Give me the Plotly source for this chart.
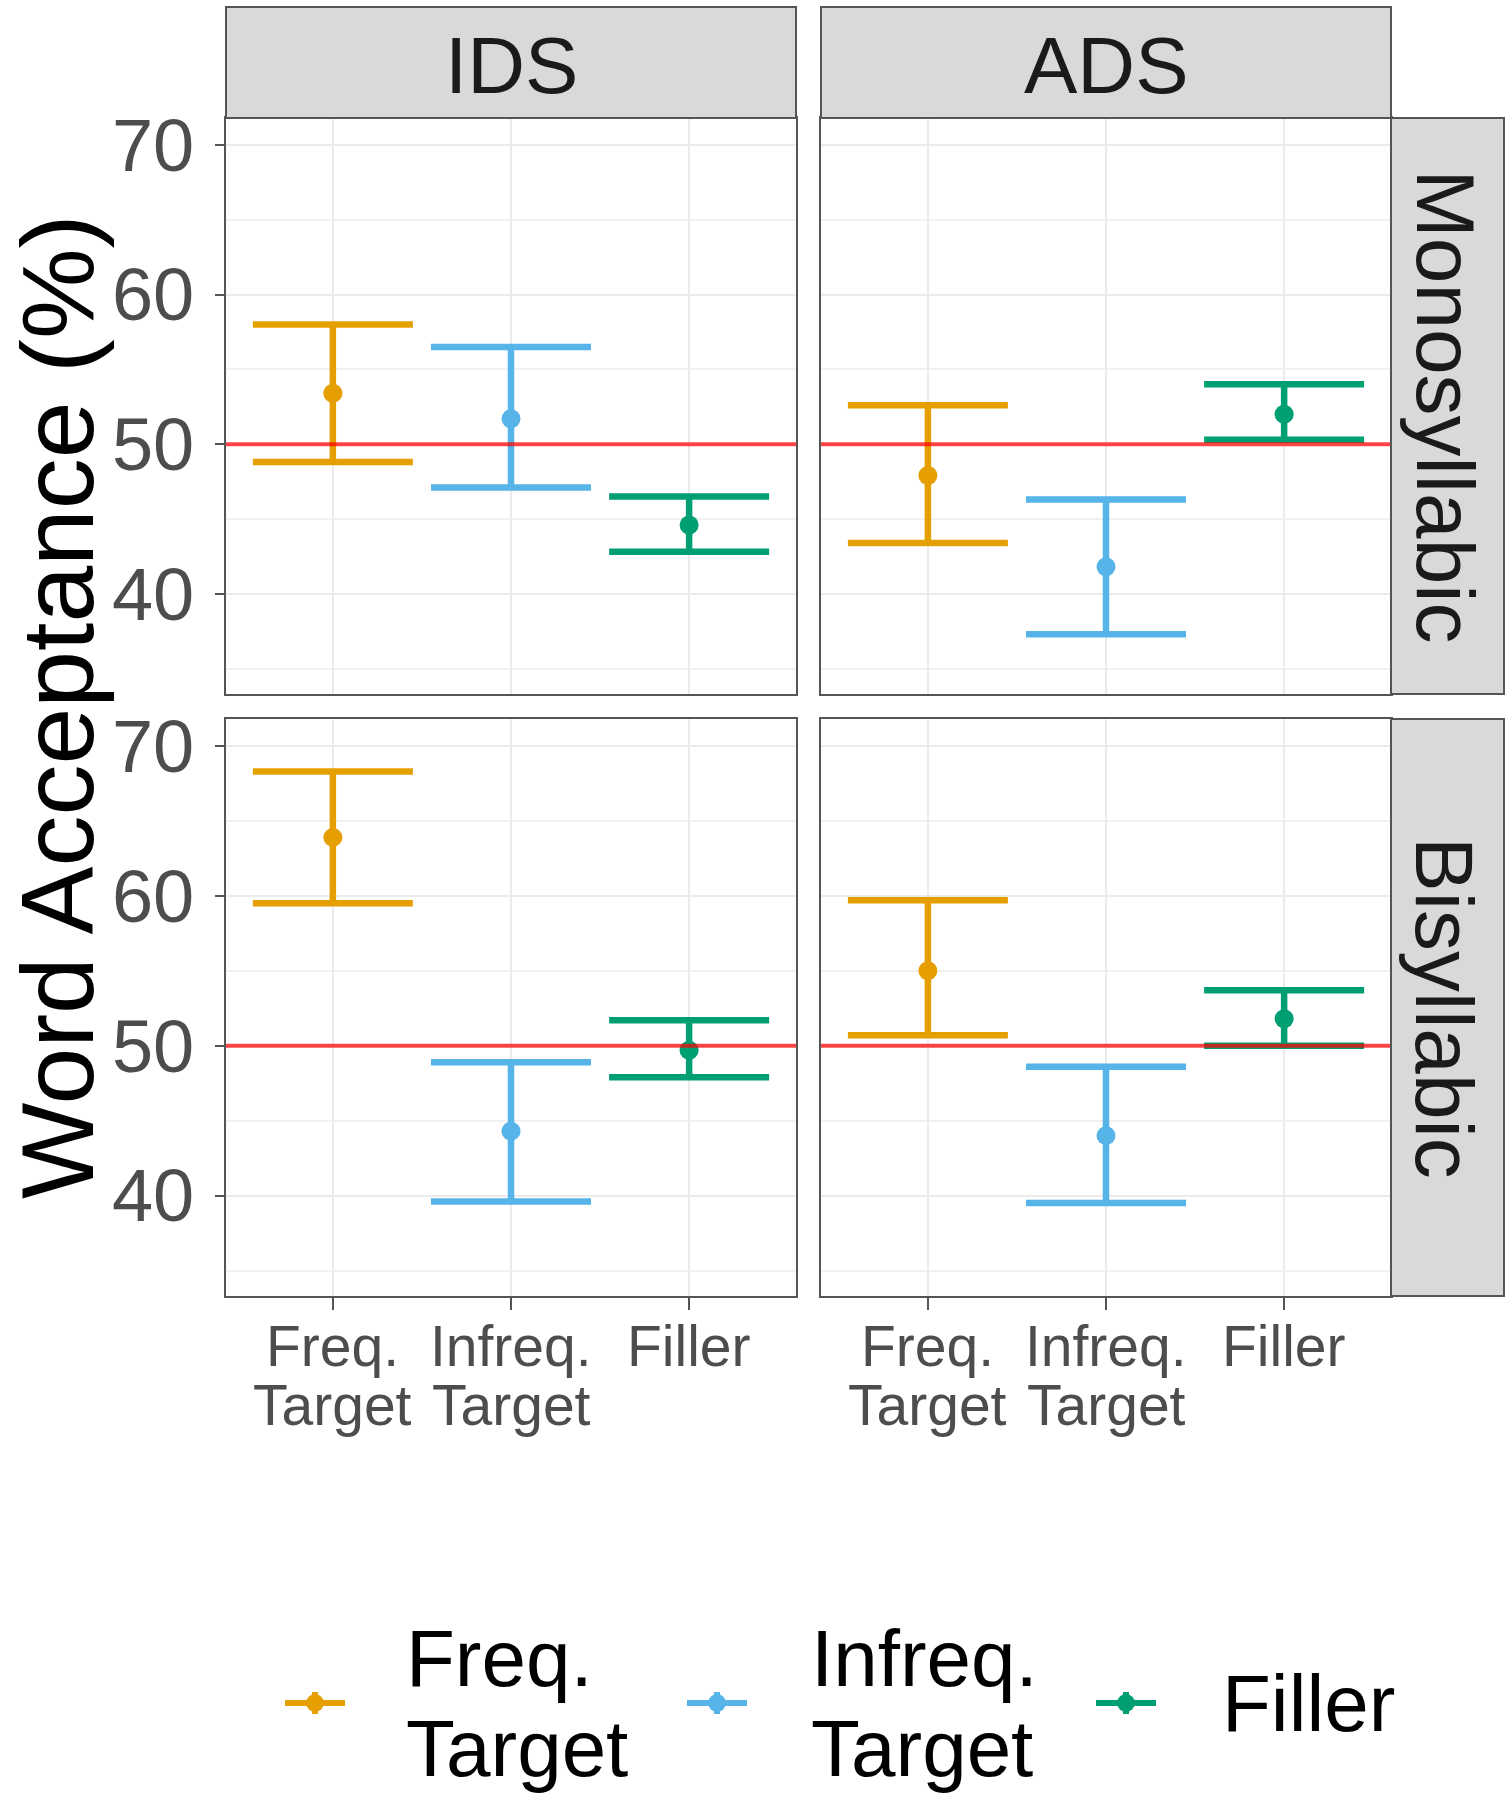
import plotly.graph_objects as go

W, H = 1509, 1800

categories = ["Freq. Target", "Infreq. Target", "Filler"]
tick_line1 = ["Freq.", "Infreq.", "Filler"]
tick_line2 = ["Target", "Target", ""]
legend_line1 = ["Freq.", "Infreq.", "Filler"]
legend_line2 = ["Target", "Target", ""]
colors = ["#E69F00", "#56B4E9", "#009E73"]
col_labels = ["IDS", "ADS"]
row_labels = ["Monosyllabic", "Bisyllabic"]
y_ticks = [40, 50, 60, 70]
y_minor = [35, 45, 55, 65]
chance = 50

ids_mono_mean = [53.4, 51.7, 44.6]
ids_mono_lo = [48.8, 47.1, 42.8]
ids_mono_hi = [58.0, 56.5, 46.5]
ads_mono_mean = [47.9, 41.8, 52.0]
ads_mono_lo = [43.4, 37.3, 50.3]
ads_mono_hi = [52.6, 46.3, 54.0]
ids_bi_mean = [63.9, 44.3, 49.7]
ids_bi_lo = [59.5, 39.6, 47.9]
ids_bi_hi = [68.3, 48.9, 51.7]
ads_bi_mean = [55.0, 44.0, 51.8]
ads_bi_lo = [50.7, 39.5, 50.0]
ads_bi_hi = [59.7, 48.6, 53.7]

panels = [
    ("x", "y", ids_mono_mean, ids_mono_lo, ids_mono_hi),
    ("x2", "y2", ads_mono_mean, ads_mono_lo, ads_mono_hi),
    ("x3", "y3", ids_bi_mean, ids_bi_lo, ids_bi_hi),
    ("x4", "y4", ads_bi_mean, ads_bi_lo, ads_bi_hi),
]

fig = go.Figure()
for xa, ya, mean, lo, hi in panels:
    for i, cat in enumerate(categories):
        fig.add_trace(go.Scatter(
            x=[cat], y=[mean[i]], xaxis=xa, yaxis=ya, mode="markers",
            name=categories[i],
            marker=dict(color=colors[i], size=19),
            error_y=dict(type="data", symmetric=False, array=[hi[i] - mean[i]],
                         arrayminus=[mean[i] - lo[i]], color=colors[i],
                         thickness=6.5, width=80),
            showlegend=False, hoverinfo="skip"))

# geometry (pixels)
colx = [(226, 796), (821, 1391)]
rowy = [(118, 694), (719, 1296)]
strip_top = (7, 118)
strip_right = (1391, 1504)

def px_x(v):
    return v / W

def px_y(v):
    return 1 - v / H

FONT = "Liberation Sans, Arial, sans-serif"
grid = "#EBEBEB"
border = "#555555"

axis_names = [("xaxis", "yaxis"), ("xaxis2", "yaxis2"), ("xaxis3", "yaxis3"), ("xaxis4", "yaxis4")]
layout = {}
for k, (xn, yn) in enumerate(axis_names):
    r, c = divmod(k, 2)
    xa = dict(type="category", categoryorder="array", categoryarray=categories,
              range=[-0.6, 2.6], domain=[px_x(colx[c][0]), px_x(colx[c][1])],
              showgrid=True, gridcolor=grid, gridwidth=2, zeroline=False,
              showline=True, mirror=True, linecolor=border, linewidth=2,
              showticklabels=False, automargin=False, fixedrange=True,
              anchor="y" if k == 0 else "y%d" % (k + 1))
    if r == 1:
        xa.update(ticks="outside", ticklen=12, tickwidth=2, tickcolor=border)
    else:
        xa.update(ticks="")
    ya = dict(range=[33.3, 71.8], domain=[px_y(rowy[r][1]), px_y(rowy[r][0])],
              tickvals=y_ticks, showgrid=True, gridcolor=grid, gridwidth=2,
              minor=dict(tickvals=y_minor, showgrid=True, gridcolor="#F1F1F1",
                         gridwidth=1.5, ticks=""),
              zeroline=False, showline=True, mirror=True, linecolor=border,
              linewidth=2, automargin=False, fixedrange=True,
              anchor="x" if k == 0 else "x%d" % (k + 1))
    if c == 0:
        ya.update(ticks="outside", ticklen=9, tickwidth=2, tickcolor=border,
                  tickfont=dict(size=74, color="#4D4D4D", family=FONT),
                  ticklabelstandoff=6)
    else:
        ya.update(ticks="", showticklabels=False)
    layout[xn] = xa
    layout[yn] = ya

shapes = []
annotations = []
# chance lines
for k in range(4):
    xr = "x" if k == 0 else "x%d" % (k + 1)
    yr = "y" if k == 0 else "y%d" % (k + 1)
    shapes.append(dict(type="line", xref=xr + " domain", yref=yr, x0=0, x1=1,
                       y0=chance, y1=chance, layer="above",
                       line=dict(color="rgba(255,0,0,0.72)", width=4)))
# strips
for c in range(2):
    shapes.append(dict(type="rect", xref="paper", yref="paper",
                       x0=px_x(colx[c][0]), x1=px_x(colx[c][1]),
                       y0=px_y(strip_top[1]), y1=px_y(strip_top[0]),
                       fillcolor="#D9D9D9", line=dict(color=border, width=2)))
    annotations.append(dict(text=col_labels[c], xref="paper", yref="paper",
                            x=px_x((colx[c][0] + colx[c][1]) / 2),
                            y=px_y((strip_top[0] + strip_top[1]) / 2 + 3),
                            showarrow=False, xanchor="center", yanchor="middle",
                            font=dict(size=80, color="#1A1A1A", family=FONT)))
for r in range(2):
    shapes.append(dict(type="rect", xref="paper", yref="paper",
                       x0=px_x(strip_right[0]), x1=px_x(strip_right[1]),
                       y0=px_y(rowy[r][1]), y1=px_y(rowy[r][0]),
                       fillcolor="#D9D9D9", line=dict(color=border, width=2)))
    annotations.append(dict(text=row_labels[r], xref="paper", yref="paper",
                            x=px_x((strip_right[0] + strip_right[1]) / 2 - 3),
                            y=px_y((rowy[r][0] + rowy[r][1]) / 2),
                            showarrow=False, textangle=90,
                            xanchor="center", yanchor="middle",
                            font=dict(size=82, color="#1A1A1A", family=FONT)))
# x tick labels (two lines, tight spacing)
for xr in ["x3", "x4"]:
    for i, cat in enumerate(categories):
        annotations.append(dict(text=tick_line1[i], xref=xr, yref="paper", x=cat,
                                y=px_y(1346), showarrow=False, yanchor="middle",
                                font=dict(size=57, color="#4D4D4D", family=FONT)))
        if tick_line2[i]:
            annotations.append(dict(text=tick_line2[i], xref=xr, yref="paper", x=cat,
                                    y=px_y(1405), showarrow=False, yanchor="middle",
                                    font=dict(size=57, color="#4D4D4D", family=FONT)))
# y title
annotations.append(dict(text="Word Acceptance (%)", xref="paper", yref="paper",
                        x=px_x(58), y=px_y(707), textangle=-90, showarrow=False,
                        xanchor="center", yanchor="middle",
                        font=dict(size=102, color="#000000", family=FONT)))

# legend (drawn as key glyphs + labels, ggplot-style bottom legend)
glyph_x = [(285, 345), (687, 747), (1096, 1156)]
text_x = [404, 809, 1220]
legend_cy = 1703
for i in range(3):
    g0, g1 = glyph_x[i]
    gc = (g0 + g1) / 2
    shapes.append(dict(type="line", xref="paper", yref="paper",
                       x0=px_x(g0), x1=px_x(g1), y0=px_y(legend_cy), y1=px_y(legend_cy),
                       line=dict(color=colors[i], width=6)))
    shapes.append(dict(type="line", xref="paper", yref="paper",
                       x0=px_x(gc), x1=px_x(gc), y0=px_y(legend_cy - 11), y1=px_y(legend_cy + 11),
                       line=dict(color=colors[i], width=6)))
    shapes.append(dict(type="circle", xref="paper", yref="paper",
                       x0=px_x(gc - 9), x1=px_x(gc + 9),
                       y0=px_y(legend_cy + 9), y1=px_y(legend_cy - 9),
                       fillcolor=colors[i], line=dict(color=colors[i], width=0)))
    if legend_line2[i]:
        annotations.append(dict(text=legend_line1[i], xref="paper", yref="paper",
                                x=px_x(text_x[i]), y=px_y(legend_cy - 45),
                                xanchor="left", yanchor="middle", showarrow=False,
                                font=dict(size=80, color="#000000", family=FONT)))
        annotations.append(dict(text=legend_line2[i], xref="paper", yref="paper",
                                x=px_x(text_x[i]), y=px_y(legend_cy + 45),
                                xanchor="left", yanchor="middle", showarrow=False,
                                font=dict(size=80, color="#000000", family=FONT)))
    else:
        annotations.append(dict(text=legend_line1[i], xref="paper", yref="paper",
                                x=px_x(text_x[i]), y=px_y(legend_cy),
                                xanchor="left", yanchor="middle", showarrow=False,
                                font=dict(size=80, color="#000000", family=FONT)))

fig.update_layout(
    **layout,
    width=W, height=H,
    margin=dict(l=0, r=0, t=0, b=0, pad=0, autoexpand=False),
    paper_bgcolor="white", plot_bgcolor="white",
    shapes=shapes, annotations=annotations,
    showlegend=False,
)

fig.write_html("out.html")
